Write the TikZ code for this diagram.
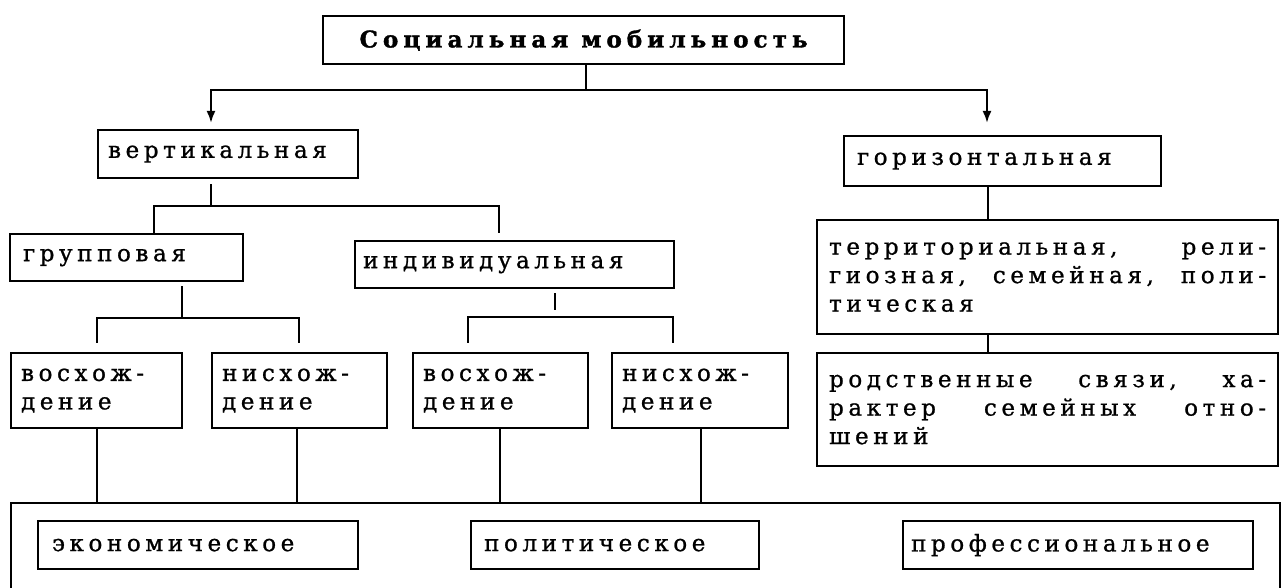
\documentclass[tikz,border=0pt]{standalone}
\usepackage{fontspec}
\setmainfont{DejaVu Serif}[LetterSpace=20, FakeBold=1.0]
\newfontfamily\titlefont{DejaVu Serif Bold}[LetterSpace=22, FakeBold=1.5]
\usetikzlibrary{arrows.meta}
\tikzset{
  bx/.style={draw, line width=2.2pt, anchor=north west, inner xsep=10pt, inner ysep=0pt, align=left, font=\fontsize{23}{28.5}\selectfont},
  ln/.style={line width=2.2pt},
  arr/.style={line width=2.2pt, -{Latex[length=12pt,width=9pt]}},
}
\newcommand{\jline}[1]{\leavevmode\hbox to 437pt{#1}}
\begin{document}
\begin{tikzpicture}[x=1pt,y=-1pt]
\useasboundingbox (0,0) rectangle (1282,588);
\clip (0,0) rectangle (1282,588);
% boxes
\node[bx, minimum width=521, minimum height=48, align=center, font=\titlefont\fontsize{23}{28}\selectfont] (top) at (322,15) {Социальная мобильность};
\node[bx, minimum width=260, minimum height=48, text width=240] (vert) at (97,129) {вертикальная};
\node[bx, minimum width=317, minimum height=50, text width=291, inner xsep=13pt] (hor) at (843,135) {горизонтальная};
\node[bx, minimum width=233, minimum height=47, text width=207, inner xsep=13pt] (grp) at (9,233) {групповая};
\node[bx, minimum width=319, minimum height=47, text width=303, inner xsep=8pt] (ind) at (354,240) {индивидуальная};
\node[bx, minimum width=461, minimum height=114, text width=437, inner xsep=12pt] (terr) at (816,219) {\jline{территориальная,\hfill рели-}\\\jline{гиозная,\hfill семейная,\hfill поли-}\\тическая\\[4pt]};
\node[bx, minimum width=461, minimum height=113, text width=437, inner xsep=12pt] (rod) at (816,352) {\jline{родственные\hfill связи,\hfill ха-}\\\jline{рактер\hfill семейных\hfill отно-}\\шений};
\node[bx, minimum width=171, minimum height=75, text width=151] (b1) at (10,352) {восхож-\\дение};
\node[bx, minimum width=175, minimum height=75, text width=155] (b2) at (211,352) {нисхож-\\дение};
\node[bx, minimum width=175, minimum height=75, text width=155] (b3) at (412,352) {восхож-\\дение};
\node[bx, minimum width=176, minimum height=75, text width=156] (b4) at (611,352) {нисхож-\\дение};
\node[bx, minimum width=1269, minimum height=110] (big) at (10,502) {};
\node[bx, minimum width=320, minimum height=48, text width=292, inner xsep=14pt] (eco) at (37,520) {экономическое};
\node[bx, minimum width=288, minimum height=48, text width=262, inner xsep=13pt] (pol) at (470,520) {политическое};
\node[bx, minimum width=350, minimum height=48, text width=334, inner xsep=8pt] (pro) at (902,520) {профессиональное};
% connectors level 1
\draw[ln] ([xshift=264pt]top.south west) -- ++(0,25) coordinate (j0);
\draw[arr, shorten >=6pt] (j0) -| ([xshift=114pt]vert.north west);
\draw[arr, shorten >=12pt] (j0) -| ([xshift=144pt]hor.north west);
% vertical branch
\draw[ln] ([xshift=114pt, yshift=-5pt]vert.south west) -- ++(0,22) coordinate (j1);
\draw[ln] (j1) -| ([xshift=145pt]grp.north west);
\draw[ln, shorten >=7pt] (j1) -| ([xshift=145pt]ind.north west);
% group branch
\draw[ln] ([xshift=173pt, yshift=-4pt]grp.south west) -- ++(0,32) coordinate (j2);
\draw[ln, shorten >=9pt] (j2) -| ([xshift=87pt]b1.north west);
\draw[ln, shorten >=9pt] (j2) -| ([xshift=88pt]b2.north west);
% individual branch
\draw[ln] ([xshift=201pt, yshift=-4pt]ind.south west) -- ++(0,17);
\coordinate (j3) at ([xshift=201pt, yshift=-28pt]ind.south west);
\draw[ln, shorten >=9pt] (j3) -| ([xshift=56pt]b3.north west);
\draw[ln, shorten >=9pt] (j3) -| ([xshift=62pt]b4.north west);
% lower lines
\draw[ln] ([xshift=87pt]b1.south west) -- ([xshift=87pt]b1.south west |- big.north);
\draw[ln] ([xshift=86pt]b2.south west) -- ([xshift=86pt]b2.south west |- big.north);
\draw[ln] ([xshift=88pt]b3.south west) -- ([xshift=88pt]b3.south west |- big.north);
\draw[ln] ([xshift=90pt]b4.south west) -- ([xshift=90pt]b4.south west |- big.north);
% horizontal branch
\draw[ln] ([xshift=145pt]hor.south west) -- ([xshift=145pt]hor.south west |- terr.north);
\draw[ln] ([xshift=172pt]terr.south west) -- ([xshift=172pt]terr.south west |- rod.north);
\end{tikzpicture}
\end{document}
